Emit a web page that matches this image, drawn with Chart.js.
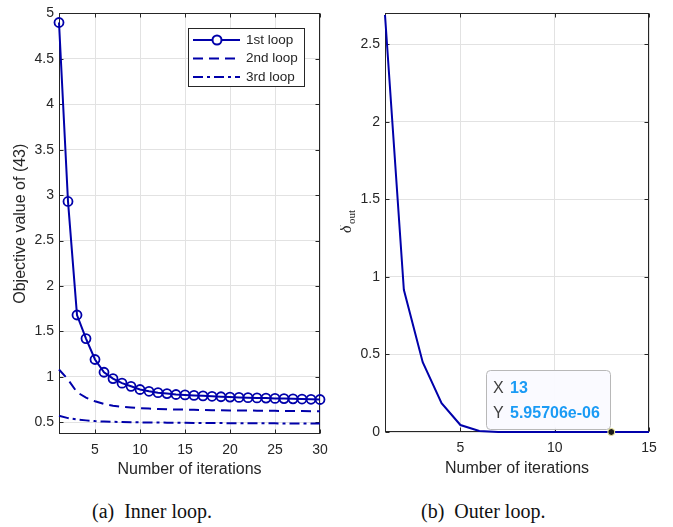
<!DOCTYPE html>
<html>
<head>
<meta charset="utf-8">
<script src="https://cdn.jsdelivr.net/npm/chart.js@4.4.1/dist/chart.umd.min.js"></script>
<style>
  body { margin: 0; background: #fff; width: 673px; height: 527px; position: relative; overflow: hidden; }
  canvas { position: absolute; top: 0; }
  .cap { position: absolute; top: 500px; font: 20px "Liberation Serif", serif; color: #111; white-space: pre; }
</style>
</head>
<body>
<canvas id="left" width="340" height="490" style="left:0"></canvas>
<canvas id="right" width="333" height="490" style="left:340px"></canvas>
<div class="cap" style="left:92px">(a)  Inner loop.</div>
<div class="cap" style="left:421px">(b)  Outer loop.</div>
<script>
// (a) inner loop
const iterInner = [1, 2, 3, 4, 5, 6, 7, 8, 9, 10, 11, 12, 13, 14, 15, 16, 17, 18, 19, 20, 21, 22, 23, 24, 25, 26, 27, 28, 29, 30];
const loop1 = [4.9, 2.93, 1.68, 1.42, 1.19, 1.05, 0.98, 0.93, 0.895, 0.86, 0.84, 0.825, 0.815, 0.805, 0.8, 0.795, 0.79, 0.785, 0.78, 0.776, 0.773, 0.77, 0.767, 0.765, 0.762, 0.76, 0.757, 0.755, 0.752, 0.75];
const loop2 = [1.08, 0.97, 0.83, 0.77, 0.73, 0.7, 0.68, 0.67, 0.662, 0.655, 0.65, 0.646, 0.643, 0.64, 0.638, 0.636, 0.634, 0.632, 0.631, 0.63, 0.629, 0.628, 0.627, 0.626, 0.625, 0.624, 0.623, 0.622, 0.621, 0.62];
const loop3 = [0.57, 0.545, 0.53, 0.52, 0.512, 0.507, 0.504, 0.502, 0.5, 0.498, 0.497, 0.496, 0.495, 0.494, 0.493, 0.492, 0.491, 0.49, 0.49, 0.489, 0.489, 0.488, 0.488, 0.487, 0.487, 0.486, 0.486, 0.486, 0.485, 0.485];
const innerXTicks = [5, 10, 15, 20, 25, 30];
const innerYTicks = [0.5, 1, 1.5, 2, 2.5, 3, 3.5, 4, 4.5, 5];

// (b) outer loop
const iterOuter = [1, 2, 3, 4, 5, 6, 7, 8, 9, 10, 11, 12, 13, 14, 15];
const deltaOut = [2.69, 0.917, 0.45, 0.186, 0.045, 0.006, 0.0008, 0.0002, 0.00006, 0.00003, 0.00002, 0.00001, 5.95706e-06, 0.000003, 0.000002];
const outerXTicks = [5, 10, 15];
const outerYTicks = [0, 0.5, 1, 1.5, 2, 2.5];
const tipIndex = 12;

const BLUE = '#0000aa';
const AXIS = '#262626';
const GRID = '#e2e2e2';

Chart.defaults.font.family = '"Liberation Sans", Arial, sans-serif';
Chart.defaults.color = AXIS;

const pts = (xs, ys) => xs.map((x, i) => ({ x: x, y: ys[i] }));

function scale(tickVals, min, max, width, height, title, titlePad) {
  return {
    type: 'linear',
    min: min,
    max: max,
    afterBuildTicks: s => { s.ticks = tickVals.map(v => ({ value: v })); },
    afterFit: s => {
      if (width != null) s.width = width;
      if (height != null) s.height = height;
    },
    ticks: { font: { size: 14 }, padding: width != null ? 5 : 8, maxRotation: 0, autoSkip: false,
             callback: v => String(v) },
    grid: { color: GRID, drawTicks: false },
    border: { display: false },
    title: { display: !!title, text: title, font: { size: 16 }, padding: { top: titlePad, bottom: titlePad } }
  };
}

// MATLAB-style box with inward tick marks on all sides
const boxPlugin = {
  id: 'box',
  beforeDatasetsDraw(chart) {
    const { ctx, chartArea: a, scales: { x, y } } = chart;
    ctx.save();
    ctx.strokeStyle = AXIS;
    ctx.lineWidth = 1;
    const l = Math.round(a.left) + 0.5, r = Math.round(a.right) - 0.5;
    const t = Math.round(a.top) + 0.5, b = Math.round(a.bottom) - 0.5;
    ctx.strokeRect(l, t, r - l, b - t);
    ctx.beginPath();
    x.ticks.forEach(tk => {
      const px = Math.round(x.getPixelForValue(tk.value)) + 0.5;
      ctx.moveTo(px, b); ctx.lineTo(px, b - 4);
      ctx.moveTo(px, t); ctx.lineTo(px, t + 4);
    });
    y.ticks.forEach(tk => {
      const py = Math.round(y.getPixelForValue(tk.value)) + 0.5;
      ctx.moveTo(l, py); ctx.lineTo(l + 4, py);
      ctx.moveTo(r, py); ctx.lineTo(r - 4, py);
    });
    ctx.stroke();
    ctx.restore();
  }
};

const legendPlugin = {
  id: 'boxLegend',
  afterDraw(chart) {
    const ctx = chart.ctx;
    const bx = 188, by = 28, bw = 116, bh = 58;
    ctx.save();
    ctx.fillStyle = '#fff';
    ctx.fillRect(bx, by, bw, bh);
    ctx.strokeStyle = AXIS;
    ctx.lineWidth = 1;
    ctx.strokeRect(bx + 0.5, by + 0.5, bw, bh);
    ctx.font = '13.5px "Liberation Sans", Arial, sans-serif';
    ctx.textBaseline = 'middle';
    chart.data.datasets.forEach((ds, i) => {
      const yy = 40 + i * 18.5;
      ctx.strokeStyle = ds.borderColor;
      ctx.lineWidth = 2;
      ctx.setLineDash(ds.borderDash || []);
      ctx.beginPath();
      ctx.moveTo(193, yy); ctx.lineTo(240, yy);
      ctx.stroke();
      ctx.setLineDash([]);
      if (ds.pointRadius > 0) {
        ctx.beginPath();
        ctx.arc(217, yy, ds.pointRadius, 0, Math.PI * 2);
        ctx.fillStyle = '#fff';
        ctx.fill();
        ctx.stroke();
      }
      ctx.fillStyle = AXIS;
      ctx.fillText(ds.label, 246, yy);
    });
    ctx.restore();
  }
};

const tipPlugin = {
  id: 'dataTip',
  afterDraw(chart) {
    const { ctx, scales: { x, y } } = chart;
    const px = x.getPixelForValue(iterOuter[tipIndex]);
    const py = y.getPixelForValue(deltaOut[tipIndex]);
    ctx.save();
    // box
    const bx = 146.5, by = 370.5, bw = 124, bh = 59, rr = 4;
    ctx.beginPath();
    ctx.roundRect(bx, by, bw, bh, rr);
    ctx.fillStyle = 'rgba(250,250,255,0.95)';
    ctx.fill();
    ctx.strokeStyle = '#b8b8b8';
    ctx.lineWidth = 1;
    ctx.stroke();
    ctx.textBaseline = 'middle';
    ctx.font = '16px "Liberation Sans", Arial, sans-serif';
    ctx.fillStyle = '#404040';
    ctx.fillText('X', 153, 389);
    ctx.fillText('Y', 153, 414);
    ctx.font = 'bold 16px "Liberation Sans", Arial, sans-serif';
    ctx.fillStyle = '#1a9bf5';
    ctx.fillText(String(iterOuter[tipIndex]), 170, 389);
    ctx.fillText(deltaOut[tipIndex].toExponential(5).replace(/e-(\d)$/, 'e-0$1'), 170, 414);
    // marker
    ctx.beginPath();
    ctx.arc(px, py, 3.5, 0, Math.PI * 2);
    ctx.fillStyle = '#1a1a1a';
    ctx.fill();
    ctx.strokeStyle = '#f5f0a0';
    ctx.lineWidth = 1;
    ctx.stroke();
    // y label  delta_out
    ctx.translate(11, 222);
    ctx.rotate(-Math.PI / 2);
    ctx.fillStyle = AXIS;
    ctx.textBaseline = 'alphabetic';
    ctx.font = 'italic 16px "Liberation Serif", serif';
    ctx.fillText('δ', -11, 0);
    ctx.font = '11px "Liberation Serif", serif';
    ctx.fillText('out', -2, 4);
    ctx.restore();
  }
};

new Chart(document.getElementById('left'), {
  type: 'line',
  data: {
    datasets: [
      { label: '1st loop', data: pts(iterInner, loop1), borderColor: BLUE, borderWidth: 2,
        pointRadius: 4.5, pointBorderWidth: 1.8, pointBackgroundColor: 'transparent', pointBorderColor: BLUE, clip: false },
      { label: '2nd loop', data: pts(iterInner, loop2), borderColor: BLUE, borderWidth: 2,
        borderDash: [10, 6], pointRadius: 0, clip: false },
      { label: '3rd loop', data: pts(iterInner, loop3), borderColor: BLUE, borderWidth: 2,
        borderDash: [10, 4, 3, 4], pointRadius: 0, clip: false }
    ]
  },
  options: {
    responsive: false,
    animation: false,
    layout: { padding: { left: 0, top: 8, right: 20, bottom: 0 } },
    plugins: { legend: { display: false }, tooltip: { enabled: false } },
    scales: {
      x: scale(innerXTicks, 1, 30, null, 56, 'Number of iterations', 11),
      y: scale(innerYTicks, 0.37, 5, 59, null, 'Objective value of (43)', 11)
    }
  },
  plugins: [boxPlugin, legendPlugin]
});

new Chart(document.getElementById('right'), {
  type: 'line',
  data: {
    datasets: [
      { label: 'delta_out', data: pts(iterOuter, deltaOut), borderColor: BLUE, borderWidth: 2,
        pointRadius: 0, clip: false }
    ]
  },
  options: {
    responsive: false,
    animation: false,
    layout: { padding: { left: 0, top: 11, right: 24, bottom: 0 } },
    plugins: { legend: { display: false }, tooltip: { enabled: false } },
    scales: {
      x: scale(outerXTicks, 1, 15, null, 58, 'Number of iterations', 12),
      y: scale(outerYTicks, 0, 2.7, 45, null, '', 0)
    }
  },
  plugins: [boxPlugin, tipPlugin]
});
</script>
</body>
</html>
